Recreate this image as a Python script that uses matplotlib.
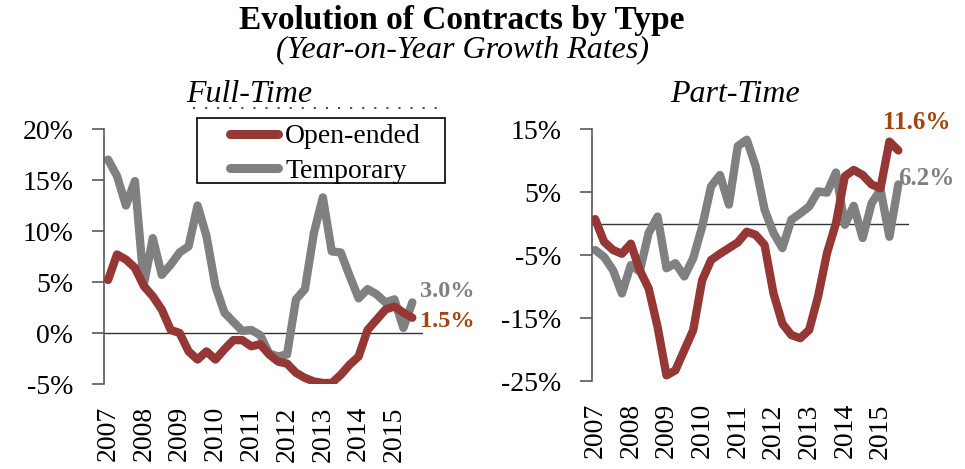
import matplotlib
matplotlib.use("Agg")
import matplotlib.pyplot as plt
from matplotlib.lines import Line2D
from matplotlib.patches import Rectangle
import numpy as np

plt.rcParams['font.family'] = ['Liberation Serif', 'DejaVu Serif']

# quarterly data, 2007Q1 .. 2015Q3
years = ['2007', '2008', '2009', '2010', '2011', '2012', '2013', '2014', '2015']

ft_open = [5.2, 7.7, 7.2, 6.4, 4.6, 3.6, 2.3, 0.3, 0.0, -1.8, -2.6, -1.8, -2.6, -1.6, -0.7,
           -0.7, -1.3, -1.1, -2.1, -2.8, -3.0, -3.9, -4.4, -4.75, -4.9, -4.9, -4.1, -3.1,
           -2.3, 0.3, 1.3, 2.3, 2.6, 2.0, 1.5]
ft_temp = [17.0, 15.4, 12.5, 14.9, 4.75, 9.3, 5.7, 6.7, 7.9, 8.5, 12.5, 9.5, 4.6, 2.0, 1.1,
           0.2, 0.3, -0.2, -2.0, -2.3, -2.1, 3.3, 4.3, 9.8, 13.3, 8.0, 7.9, 5.6, 3.4, 4.3,
           3.8, 3.0, 3.3, 0.5, 3.0]

pt_open = [0.7, -2.9, -4.2, -4.8, -3.2, -7.4, -10.3, -16.4, -24.1, -23.3, -20.1, -16.9, -9.0,
           -5.8, -4.8, -3.9, -3.0, -1.3, -1.8, -3.4, -11.1, -15.9, -17.7, -18.2, -16.9,
           -11.6, -4.7, 0.0, 7.5, 8.5, 7.7, 6.2, 5.6, 13.0, 11.6]
pt_temp = [-4.2, -5.3, -7.4, -11.1, -6.6, -7.6, -1.5, 1.1, -7.1, -6.3, -8.4, -5.5, -0.5, 5.9,
           7.7, 3.0, 12.3, 13.3, 9.1, 2.2, -1.5, -3.9, 0.6, 1.6, 2.7, 5.1, 4.9, 8.1, -0.2,
           2.8, -2.3, 3.2, 5.4, -2.1, 6.2]

red = '#953735'
grey = '#808080'
lab_red = '#A3430F'
LW = 6

fig = plt.figure(figsize=(9.65, 4.69), dpi=100)
ax1 = fig.add_axes([0.1078, 0.1812, 0.3306, 0.5437])
ax2 = fig.add_axes([0.6135, 0.1876, 0.3285, 0.5373])

def style(ax, ylo, yhi, step, x0):
    q = np.arange(len(ft_open))
    ax.set_xlim(x0, 35.2)
    ax.set_ylim(ylo, yhi)
    ticks = np.arange(ylo, yhi + 0.1, step)
    ax.set_yticks(ticks)
    ax.set_yticklabels([f'{int(v)}%' for v in ticks], fontsize=20)
    ax.set_xticks(q[::4])
    ax.set_xticklabels(years, rotation=90, fontsize=20)
    ax.tick_params(axis='x', length=0, pad=16)
    ax.tick_params(axis='y', length=9, width=1.2, color='#595959', pad=13, direction='out')
    for s in ['top', 'right', 'bottom']:
        ax.spines[s].set_visible(False)
    ax.spines['left'].set_color('#595959')
    ax.spines['left'].set_linewidth(1.2)
    ax.axhline(0, color='#333333', lw=1.0, zorder=1)
    return q

q = style(ax1, -5, 20, 5, -0.45)
ax1.plot(q, ft_open, color=red, lw=LW, solid_capstyle='round', solid_joinstyle='round', zorder=3)
ax1.plot(q, ft_temp, color=grey, lw=LW, solid_capstyle='round', solid_joinstyle='round', zorder=2)
ax1.text(34.9, 4.1, '3.0%', color=grey, fontsize=17.5, fontweight='bold', va='center', ha='left', clip_on=False)
ax1.text(34.9, 1.1, '1.5%', color=lab_red, fontsize=17.5, fontweight='bold', va='center', ha='left', clip_on=False)

q = style(ax2, -25, 15, 10, -0.35)
ax2.plot(q, pt_open, color=red, lw=LW, solid_capstyle='round', solid_joinstyle='round', zorder=3)
ax2.plot(q, pt_temp, color=grey, lw=LW, solid_capstyle='round', solid_joinstyle='round', zorder=2)
ax2.text(32.3, 16.0, '11.6%', color=lab_red, fontsize=18, fontweight='bold', va='center', ha='left', clip_on=False)
ax2.text(34.0, 7.2, '6.2%', color=grey, fontsize=18, fontweight='bold', va='center', ha='left', clip_on=False)

# legend box drawn by hand, legend itself without frame
fig.add_artist(Rectangle((197 / 965, 1 - 183 / 469), 248 / 965, 65 / 469, transform=fig.transFigure,
                         facecolor='white', edgecolor='black', lw=1.2, zorder=4))
handles = [Line2D([], [], color=red, lw=6.5, solid_capstyle='round'),
           Line2D([], [], color=grey, lw=6.5, solid_capstyle='round')]
fig.legend(handles, ['Open-ended', 'Temporary'], loc='upper left',
           bbox_to_anchor=(229.5 / 965, 1 - 124 / 469), frameon=False,
           fontsize=20, handlelength=1.73, handletextpad=0.27,
           borderpad=0, labelspacing=0.32, borderaxespad=0)

# dotted rule under the left panel title
fig.add_artist(Line2D([193 / 965, 440 / 965], [1 - 108 / 469, 1 - 108 / 469], color='#505050',
                      lw=1.5, linestyle=(0, (1, 4.8)), transform=fig.transFigure))

fig.text(462 / 965, 1 - 21 / 469, 'Evolution of Contracts by Type', ha='center', va='center',
         fontsize=24, fontweight='bold')
fig.text(462 / 965, 1 - 50 / 469, '(Year-on-Year Growth Rates)', ha='center', va='center',
         fontsize=23, style='italic')
fig.text(249 / 965, 1 - 94 / 469, 'Full-Time', ha='center', va='center', fontsize=23, style='italic')
fig.text(735 / 965, 1 - 94 / 469, 'Part-Time', ha='center', va='center', fontsize=23, style='italic')

fig.savefig('out.png', dpi=100)
